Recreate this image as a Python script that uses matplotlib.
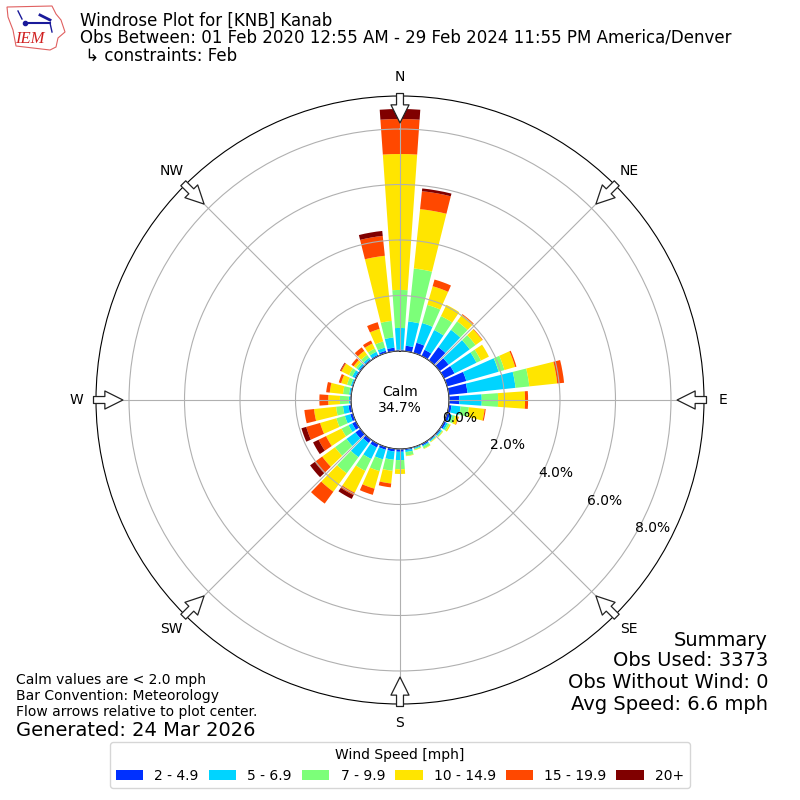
import numpy as np
import matplotlib
matplotlib.use("Agg")
import matplotlib.pyplot as plt
from matplotlib.patches import Polygon

# percent of observations per speed bin, one value per 10 degree direction (N, clockwise)
directions = np.arange(0, 360, 10)
bin_labels = ["2 - 4.9", "5 - 6.9", "7 - 9.9", "10 - 14.9", "15 - 19.9", "20+"]
bin_colors = ["#0030ff", "#00d4ff", "#7cff79", "#ffe500", "#ff4800", "#800000"]

speed_2_5 = [.05, .20, .38, .25, .59, .40, .42, .72, .68, .37, .10, .10,
             .08, .05, .04, .06, .03, .05, .10, .10, .10, .14, .15, .22,
             .15, .10, .10, .03, .03, .03, .05, .05, .05, .05, .08, .13]
speed_5_7 = [.78, .88, .74, .79, .77, .94, .88, 1.21, 1.74, .81, .33, .10,
             .07, .05, .04, .04, .04, .07, .30, .30, .36, .46, .63, .40,
             .15, .20, .20, .05, .05, .05, .10, .07, .07, .12, .12, .37]
speed_7_10 = [1.37, 1.92, .68, .56, .38, .26, .18, .22, .50, .59, .30, .10,
              .07, .04, .02, .08, .03, .13, .33, .40, .44, .48, .72, .51,
              .28, .32, .25, .32, .22, .14, .13, .08, .13, .13, .23, .60]
speed_10_15 = [4.90, 2.15, .70, .45, .29, .30, .32, .40, 1.01, .97, .57, .12,
               .05, .02, .02, .02, .02, .02, .17, .46, .66, .87, .82, .57,
               .62, .61, .80, .42, .48, .22, .30, .10, .17, .20, .47, 2.36]
speed_15_20 = [1.26, .65, .25, 0, .03, .02, 0, .05, .25, .11, .04, .02,
               0, 0, 0, 0, 0, 0, 0, .14, .23, .10, .53, .33,
               .30, .52, .35, .32, .13, .09, .04, .10, .16, .12, .25, .72]
speed_20_up = [.36, .10, 0, 0, 0, 0, 0, 0, 0, 0, 0, 0,
               0, 0, 0, 0, 0, 0, 0, 0, 0, .15, 0, .21,
               .22, .18, 0, 0, 0, 0, .02, 0, 0, 0, 0, .18]
all_bins = [speed_2_5, speed_5_7, speed_7_10, speed_10_15, speed_15_20, speed_20_up]

fig = plt.figure(figsize=(8, 8), dpi=100)
ax = fig.add_axes([0.12, 0.12, 0.76, 0.76], projection="polar")
ax.set_theta_zero_location("N")
ax.set_theta_direction(-1)

bottom = np.zeros(len(directions))
for vals, lab, col in zip(all_bins, bin_labels, bin_colors):
    vals = np.array(vals)
    ax.bar(np.deg2rad(directions), vals, width=np.deg2rad(8), bottom=bottom,
           color=col, label=lab, linewidth=0)
    bottom += vals

ax.set_rorigin(-1.766)
ax.set_rlim(0, 9.19)
ax.set_rticks([0, 2, 4, 6, 8])
ax.set_yticklabels(["0.0%", "2.0%", "4.0%", "6.0%", "8.0%"])
ax.set_rlabel_position(120)
ax.set_thetagrids(np.arange(0, 360, 45), ["N", "NE", "E", "SE", "S", "SW", "W", "NW"])
ax.set_axisbelow(False)
ax.grid(True, color="#b0b0b0", linewidth=0.8)
ax.tick_params(axis="x", pad=3.5)

# flow arrows round the edge
for th in np.arange(0, 360, 45):
    ax.annotate("", xy=(np.deg2rad(th), 8.22), xytext=(np.deg2rad(th), 9.28),
                annotation_clip=False,
                arrowprops=dict(facecolor="white", edgecolor="#222222", width=5,
                                headwidth=13, headlength=13, shrink=0, linewidth=0.9))

ax.text(0.5, 0.5, "Calm\n34.7%", transform=ax.transAxes, ha="center", va="center",
        fontsize=10)

fig.text(80 / 800, 1 - 21 / 800, "Windrose Plot for [KNB] Kanab", fontsize=12, va="center")
fig.text(80 / 800, 1 - 38 / 800, "Obs Between: 01 Feb 2020 12:55 AM - 29 Feb 2024 11:55 PM America/Denver",
         fontsize=12, va="center")
fig.text(80 / 800, 1 - 56 / 800, " ↳ constraints: Feb", fontsize=12, va="center")

fig.text(16 / 800, 1 - 680 / 800, "Calm values are < 2.0 mph", fontsize=10, va="center")
fig.text(16 / 800, 1 - 696 / 800, "Bar Convention: Meteorology", fontsize=10, va="center")
fig.text(16 / 800, 1 - 712 / 800, "Flow arrows relative to plot center.", fontsize=10, va="center")
fig.text(16 / 800, 1 - 730 / 800, "Generated: 24 Mar 2026", fontsize=14, va="center")

summary = ["Summary", "Obs Used: 3373", "Obs Without Wind: 0", "Avg Speed: 6.6 mph"]
for y, line in zip([640, 661, 682, 705], summary):
    fig.text(768 / 800, 1 - y / 800, line, fontsize=14, ha="right", va="center")

fig.legend(loc="lower center", bbox_to_anchor=(0.5, 0.006), ncol=6, fontsize=10,
           title="Wind Speed [mph]", title_fontsize=10, columnspacing=0.7)

# rough IEM logo
logo = fig.add_axes([0, 0.93, 0.09, 0.07])
logo.set_xlim(0, 72)
logo.set_ylim(56, 0)
logo.axis("off")
state = [(7, 7), (52, 6), (56, 14), (61, 20), (65, 32), (58, 38), (56, 47), (50, 50),
         (16, 46), (13, 30), (8, 17)]
logo.add_patch(Polygon(state, closed=True, facecolor="white", edgecolor="#e06060", linewidth=0.8))
logo.plot([25, 50], [23, 23], color="#1a1a9a", linewidth=1.5)
logo.plot([18, 22], [11, 19], color="#1a1a9a", linewidth=1)
logo.plot([40, 50], [15, 20], color="#1a1a9a", linewidth=2)
logo.plot([50, 52], [23, 32], color="#1a1a9a", linewidth=1)
logo.plot([25], [23], "o", color="#1a1a9a", markersize=3)
logo.text(30, 39, "IEM", color="#d02020", fontsize=12, family="Liberation Serif",
          style="italic", ha="center", va="center")

fig.savefig("out.png", dpi=100)
